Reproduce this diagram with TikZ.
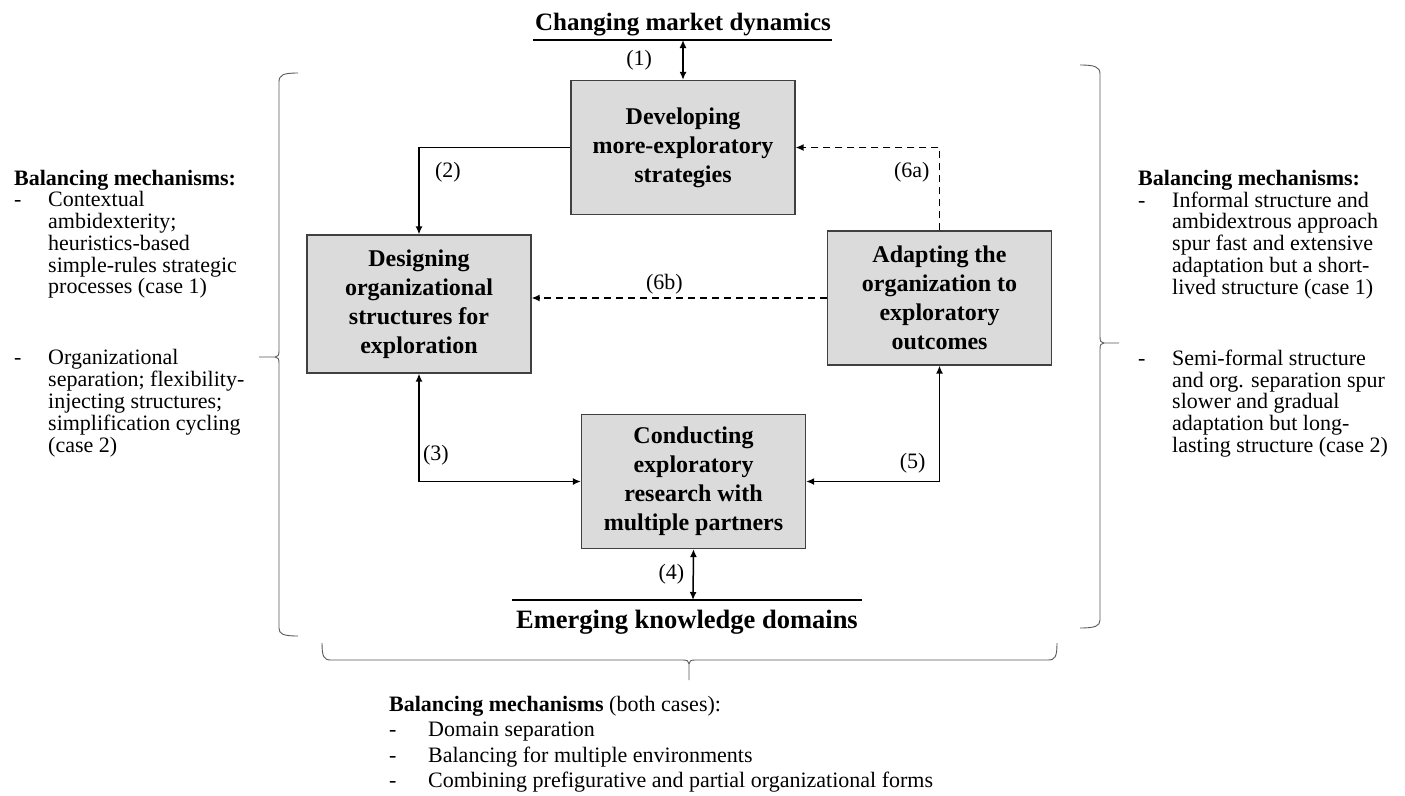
\documentclass[tikz,border=0pt]{standalone}
\usepackage{fontspec}
\setmainfont{Liberation Serif}
\usetikzlibrary{arrows.meta, positioning, calc}

\begin{document}
\begin{tikzpicture}[
    x=1pt, y=-1pt,
    stage/.style={rectangle, draw=black!75, fill=black!14, line width=1.2pt, minimum width=224pt, minimum height=134pt, align=center, inner sep=0pt, font=\fontsize{24}{29}\selectfont\bfseries},
    arrow/.style={-{Latex[length=8pt,width=7pt]}, line width=1.5pt},
    twoway/.style={{Latex[length=8pt,width=7pt]}-{Latex[length=8pt,width=7pt]}, line width=1.5pt},
    feedback/.style={arrow, dash pattern=on 7pt off 5pt},
    num/.style={font=\fontsize{22}{24}\selectfont},
    mech/.style={inner sep=0pt, anchor=base west, font=\fontsize{22}{21.7}\selectfont},
    env/.style={inner sep=0pt, anchor=base, font=\fontsize{25}{28}\selectfont\bfseries},
    bracket/.style={draw=black!65, line width=0.9pt},
]
\useasboundingbox (0,0) rectangle (1405,795);

\node[env] (mkt) at (683,30) {Changing market dynamics};
\draw[line width=1.5pt] (533,40) -- (832,40);
\coordinate (mktl) at (683,40);

\node[stage] (dev) at (683,147.5) {Developing\\more-exploratory\\strategies};
\node[stage, minimum height=138pt] (des) at (419,304) {Designing\\organizational\\structures for\\exploration};
\node[stage] (ada) at (939.5,298) {Adapting the\\organization to\\exploratory\\outcomes};
\node[stage] (con) at (693.5,481.5) {Conducting\\exploratory\\research with\\multiple partners};

\draw[line width=1.5pt] (512,600) -- (862,600);
\coordinate (emgl) at (693,600);
\node[env, font=\fontsize{26.5}{28}\selectfont\bfseries] (emg) at (687,628) {Emerging knowledge domains};

\draw[twoway] (dev.north) -- node[num, left=27pt] {(1)} (mktl);
\draw[arrow] (dev.west) -| node[num, pos=0.64, right=12pt] {(2)} (des.north);
\draw[feedback] (ada.north) |- node[num, pos=0.35, left=6pt] {(6a)} (dev.east);
\draw[feedback] (ada.west) -- node[num, pos=0.55, above] {(6b)} (ada.west -| des.east);
\draw[twoway] (des.south) |- node[num, pos=0.38, right] {(3)} (con.west);
\draw[twoway] (ada.south) |- node[num, pos=0.42, left=10pt] {(5)} (con.east);
\draw[twoway] (con.south) -- node[num, left=5pt] {(4)} (emgl);

% braces
\draw[bracket] (298,73) .. controls (283,73) and (279,75) .. (279,82) -- (279,351)
  .. controls (279,355) and (278,357) .. (275,357) -- (259,357)
  (275,357) .. controls (278,357) and (279,359) .. (279,363) -- (279,628)
  .. controls (279,634) and (283,636) .. (298,636);
\draw[bracket] (1080,65) .. controls (1095,65) and (1100,67) .. (1100,74) -- (1100,337)
  .. controls (1100,341) and (1101,343) .. (1104,343) -- (1119,343)
  (1104,343) .. controls (1101,343) and (1100,345) .. (1100,349) -- (1100,620)
  .. controls (1100,626) and (1095,628) .. (1080,628);
\draw[bracket] (322,643) .. controls (322,657) and (324,660) .. (331,660) -- (683,660)
  .. controls (687,660) and (689,661) .. (689,664) -- (689,680)
  (689,664) .. controls (689,661) and (691,660) .. (695,660) -- (1048,660)
  .. controls (1055,660) and (1057,657) .. (1057,643);

\node[mech] (lmech) at (14,185) {\begin{tabular}[t]{@{}p{34pt}@{}l@{}}
\multicolumn{2}{@{}l@{}}{\textbf{Balancing mechanisms:}}\\
- & Contextual\\
  & ambidexterity;\\
  & heuristics-based\\
  & simple-rules strategic\\
  & processes (case 1)\\[49pt]
- & Organizational\\
  & separation; flexibility-\\
  & injecting structures;\\
  & simplification cycling\\
  & (case 2)
\end{tabular}};

\node[mech] (rmech) at (1138,185) {\begin{tabular}[t]{@{}p{34pt}@{}l@{}}
\multicolumn{2}{@{}l@{}}{\textbf{Balancing mechanisms:}}\\
- & Informal structure and\\
  & ambidextrous approach\\
  & spur fast and extensive\\
  & adaptation but a short-\\
  & lived structure (case 1)\\[49pt]
- & Semi-formal structure\\
  & and org. separation spur\\
  & slower and gradual\\
  & adaptation but long-\\
  & lasting structure (case 2)
\end{tabular}};

\node[mech, font=\fontsize{22}{25.5}\selectfont] (bmech) at (389,711) {\begin{tabular}[t]{@{}p{39pt}@{}l@{}}
\multicolumn{2}{@{}l@{}}{\textbf{Balancing mechanisms} (both cases):}\\
- & Domain separation\\
- & Balancing for multiple environments\\
- & Combining prefigurative and partial organizational forms
\end{tabular}};
\end{tikzpicture}
\end{document}
